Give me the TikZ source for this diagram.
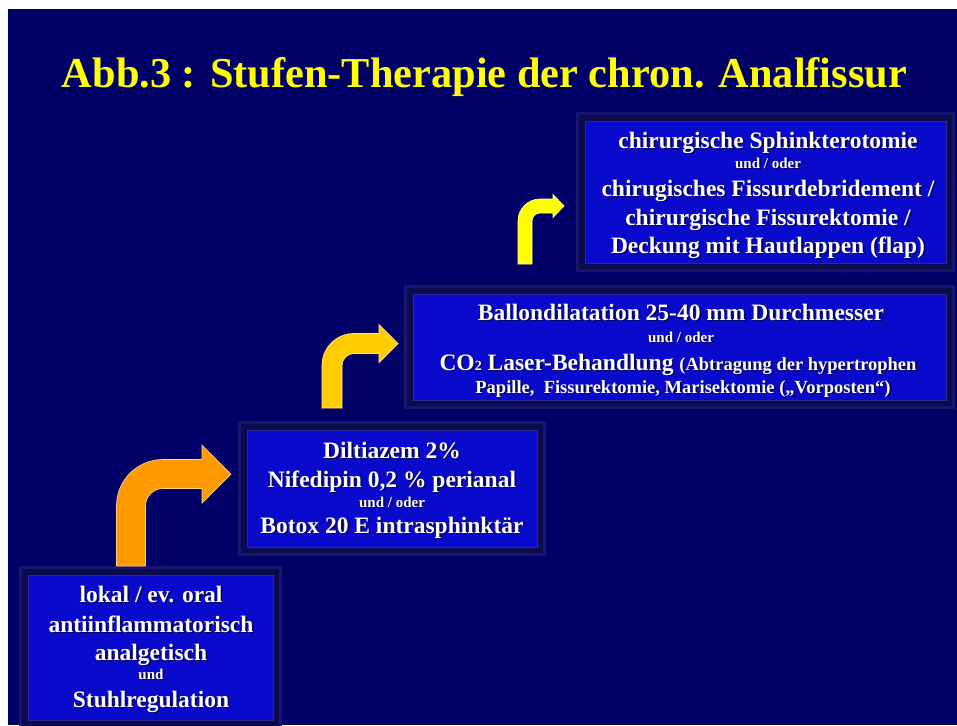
\documentclass[tikz,border=0pt]{standalone}
\usepackage{fontspec}
\usepackage{graphicx}
\setmainfont{Liberation Serif}
\usetikzlibrary{calc}
\definecolor{bg}{HTML}{000066}
\definecolor{boxblue}{HTML}{0A0ACC}
\definecolor{framec}{HTML}{0A0A4C}
\definecolor{glowc}{HTML}{16166C}
\definecolor{edgec}{HTML}{2A2A8C}
\definecolor{orangeA}{HTML}{FF9900}
\definecolor{goldA}{HTML}{FFCC00}
\definecolor{yellowA}{HTML}{FFFF00}
\tikzset{
  txt/.style={text=white, anchor=base, inner sep=0pt, outer sep=0pt},
  shd/.style={text=black, anchor=base, inner sep=0pt, outer sep=0pt, opacity=0.55},
  stepbox/.style={rectangle, inner sep=0pt, outer sep=0pt, fill=boxblue,
    preaction={draw=glowc, line width=18pt},
    preaction={draw=framec, line width=12pt},
    postaction={draw=edgec, line width=1pt}},
}
\newcommand\tline[5]{%
  \node[shd,font=\bfseries\fontsize{#4}{#4}\selectfont] at (#2+1.6,#3+1.6) {#5};
  \node[txt,font=\bfseries\fontsize{#4}{#4}\selectfont] (#1) at (#2,#3) {#5};}
\newcommand\bentarrow[9]{%
  \pgfmathsetmacro\arRo{#5+#4}\pgfmathsetmacro\arRi{#5-#4}%
  \pgfmathsetmacro\arko{0.5523*\arRo}\pgfmathsetmacro\arki{0.5523*\arRi}%
  \filldraw[fill=#1, draw=white!55!#1, line width=0.7pt, line join=miter]
    (#2-#4,#6) -- (#2-#4,#3+#5)
    .. controls (#2-#4,#3+#5-\arko) and (#2+#5-\arko,#3-#4) .. (#2+#5,#3-#4)
    -- (#7,#3-#4) -- (#7,#3-#8) -- (#9,#3) -- (#7,#3+#8) -- (#7,#3+#4) -- (#2+#5,#3+#4)
    .. controls (#2+#5-\arki,#3+#4) and (#2+#4,#3+#5-\arki) .. (#2+#4,#3+#5)
    -- (#2+#4,#6) -- cycle;}
\begin{document}
\begin{tikzpicture}[x=1pt,y=-1pt]
\useasboundingbox (0,0) rectangle (957,725);
\fill[white] (0,0) rectangle (957,725);
\fill[bg] (8,9) rectangle (957,725);

% title
\node[anchor=base, inner sep=0pt, text=yellowA] (title) at (484.5,87)
  {\resizebox{845pt}{30pt}{\bfseries Abb.3 : Stufen-Therapie der chron. Analfissur}};

% boxes
\node[stepbox, minimum width=245pt, minimum height=145pt] (box1) at (150.5,647.5) {};
\node[stepbox, minimum width=290pt, minimum height=117pt] (box2) at (392,488.5) {};
\node[stepbox, minimum width=533pt, minimum height=106pt] (box3) at (679.5,347) {};
\node[stepbox, minimum width=361pt, minimum height=142pt] (box4) at (765.5,192) {};

% arrows
\bentarrow{orangeA}{131}{474}{14.5}{32}{566}{202}{29}{231}
\bentarrow{goldA}{332}{343.5}{10}{22}{408}{379}{19}{398}
\bentarrow{yellowA}{525}{206}{7}{15}{264}{553}{11.5}{564}

% box 1 text
\tline{b1a}{151}{602}{23.5}{lokal / ev. oral}
\tline{b1b}{151}{632}{23.5}{antiinflammatorisch}
\tline{b1c}{151}{660}{23.5}{analgetisch}
\tline{b1d}{151}{679}{15}{und}
\tline{b1e}{151}{707}{23.5}{Stuhlregulation}

% box 2 text
\tline{b2a}{392}{458}{23.5}{Diltiazem 2\%}
\tline{b2b}{392}{487}{23.5}{Nifedipin 0,2 \% perianal}
\tline{b2c}{392}{507}{15}{und / oder}
\tline{b2d}{392}{533}{23.5}{Botox 20 E intrasphinktär}

% box 3 text
\tline{b3a}{681}{320}{23.5}{Ballondilatation 25-40 mm Durchmesser}
\tline{b3b}{681}{342}{15}{und / oder}
\tline{b3c}{678}{370}{23.5}{CO{\fontsize{14}{14}\selectfont 2} Laser-Behandlung {\fontsize{18.5}{18.5}\selectfont (Abtragung der hypertrophen}}
\tline{b3d}{683}{393}{18.5}{Papille,\ \ Fissurektomie, Marisektomie („Vorposten“)}

% box 4 text
\tline{b4a}{768}{148}{23.5}{chirurgische Sphinkterotomie}
\tline{b4b}{768}{168}{15}{und / oder}
\tline{b4c}{768}{196}{23.5}{chirugisches Fissurdebridement /}
\tline{b4d}{768}{225}{23.5}{chirurgische Fissurektomie /}
\tline{b4e}{768}{253}{23.5}{Deckung mit Hautlappen (flap)}
\end{tikzpicture}
\end{document}
